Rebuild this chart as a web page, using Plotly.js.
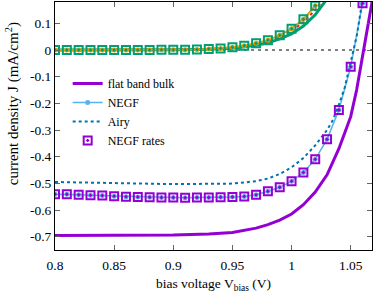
<!DOCTYPE html>
<html>
<head>
<meta charset="utf-8">
<script src="https://cdn.plot.ly/plotly-3.0.1.min.js"></script>
<style>html,body{margin:0;padding:0;background:#fff;}#chart{width:374px;height:293px;}</style>
</head>
<body>
<div id="chart"></div>
<script>
// ---- illuminated set (lower curves) ----
const flatX = [0.80, 0.85, 0.90, 0.93, 0.95, 0.97, 0.98, 0.99, 1.00, 1.01, 1.02, 1.03, 1.04, 1.045, 1.05, 1.055, 1.06, 1.065, 1.07];
const flatY = [-0.696, -0.695, -0.694, -0.690, -0.684, -0.668, -0.655, -0.638, -0.615, -0.580, -0.533, -0.468, -0.370, -0.310, -0.250, -0.150, -0.030, 0.100, 0.230];

const negfX = [0.80, 0.81, 0.82, 0.83, 0.84, 0.85, 0.86, 0.87, 0.88, 0.89, 0.90, 0.91, 0.92, 0.93, 0.94, 0.95, 0.96, 0.97, 0.98, 0.99, 1.00, 1.01, 1.02, 1.03, 1.04, 1.05, 1.06];
const negfY = [-0.541, -0.541, -0.543, -0.545, -0.546, -0.548, -0.550, -0.551, -0.552, -0.553, -0.553, -0.554, -0.553, -0.553, -0.552, -0.551, -0.549, -0.543, -0.530, -0.515, -0.492, -0.459, -0.410, -0.335, -0.225, -0.063, 0.175];
const ratesY = [-0.541, -0.541, -0.543, -0.545, -0.546, -0.548, -0.550, -0.551, -0.552, -0.553, -0.553, -0.554, -0.553, -0.553, -0.552, -0.551, -0.549, -0.543, -0.530, -0.515, -0.492, -0.459, -0.410, -0.335, -0.225, -0.063, 0.175];

const airyX = [0.80, 0.85, 0.90, 0.95, 0.96, 0.97, 0.98, 0.99, 1.00, 1.01, 1.02, 1.03, 1.035, 1.04, 1.045, 1.05, 1.055, 1.06];
const airyY = [-0.495, -0.500, -0.503, -0.501, -0.497, -0.492, -0.482, -0.465, -0.440, -0.405, -0.358, -0.300, -0.262, -0.205, -0.140, -0.045, 0.050, 0.190];

// ---- dark set (upper curves) ----
const darkFlatX = [0.80, 0.85, 0.90, 0.93, 0.95, 0.97, 0.98, 0.99, 1.00, 1.01, 1.02, 1.03];
const darkFlatY = [0.000, 0.000, 0.001, 0.003, 0.007, 0.018, 0.027, 0.042, 0.060, 0.090, 0.132, 0.192];

const darkNegfX = [0.80, 0.81, 0.82, 0.83, 0.84, 0.85, 0.86, 0.87, 0.88, 0.89, 0.90, 0.91, 0.92, 0.93, 0.94, 0.95, 0.96, 0.97, 0.98, 0.99, 1.00, 1.01, 1.02];
const darkNegfY = [0.000, 0.000, 0.000, 0.000, 0.000, 0.000, 0.000, 0.000, 0.000, 0.001, 0.001, 0.001, 0.002, 0.004, 0.006, 0.010, 0.016, 0.025, 0.037, 0.055, 0.080, 0.115, 0.166];
const darkRatesY = [0.000, 0.000, 0.000, 0.000, 0.000, 0.000, 0.000, 0.000, 0.000, 0.001, 0.001, 0.001, 0.002, 0.004, 0.006, 0.010, 0.016, 0.025, 0.037, 0.055, 0.080, 0.115, 0.166];

const darkAiryX = [0.80, 0.85, 0.90, 0.93, 0.95, 0.97, 0.98, 0.99, 1.00, 1.01, 1.02, 1.03];
const darkAiryY = [0.000, 0.000, 0.001, 0.003, 0.008, 0.021, 0.032, 0.050, 0.072, 0.104, 0.150, 0.210];

const xTicks = [0.8, 0.85, 0.9, 0.95, 1, 1.05];
const xTickText = ['0.8', '0.85', '0.9', '0.95', '1', '1.05'];
const yTicks = [0.1, 0, -0.1, -0.2, -0.3, -0.4, -0.5, -0.6, -0.7];
const yTickText = ['0.1', '0', '-0.1', '-0.2', '-0.3', '-0.4', '-0.5', '-0.6', '-0.7'];

const xTitle = 'bias voltage V<sub>bias</sub> (V)';
const yTitle = 'current density J (mA/cm<sup>2</sup>)';

const PURPLE = '#9400d3', SKY = '#56b4e9', BLUE = '#0072b2';
const GREEN = '#009e73', ORANGE = '#e69f00', RED = '#e51e10';

const traces = [
  // dark set
  {x: darkFlatX, y: darkFlatY, mode: 'lines', line: {color: GREEN, width: 3}, showlegend: false},
  {x: darkAiryX, y: darkAiryY, mode: 'lines', line: {color: RED, width: 2, dash: 'dot'}, showlegend: false},
  {x: darkNegfX, y: darkNegfY, mode: 'lines+markers', line: {color: ORANGE, width: 2}, marker: {symbol: 'circle', size: 5, color: ORANGE}, showlegend: false},
  {x: darkNegfX, y: darkRatesY, mode: 'markers', marker: {symbol: 'square-open-dot', size: 8, color: GREEN, line: {width: 2, color: GREEN}}, showlegend: false},
  // illuminated set
  {x: flatX, y: flatY, mode: 'lines', name: 'flat band bulk', line: {color: PURPLE, width: 3}},
  {x: negfX, y: negfY, mode: 'lines+markers', name: 'NEGF', line: {color: SKY, width: 1.5}, marker: {symbol: 'circle', size: 5, color: SKY}},
  {x: airyX, y: airyY, mode: 'lines', name: 'Airy', line: {color: BLUE, width: 2, dash: 'dot'}},
  {x: negfX, y: ratesY, mode: 'markers', name: 'NEGF rates', marker: {symbol: 'square-open-dot', size: 8, color: PURPLE, line: {width: 2, color: PURPLE}}}
];

const axisFont = {family: 'Liberation Serif, serif', size: 13.5, color: '#000'};
const legendFont = {family: 'Liberation Serif, serif', size: 12, color: '#000'};

const layout = {
  width: 374, height: 293,
  margin: {l: 55, r: 2, t: 2, b: 43},
  paper_bgcolor: '#fff', plot_bgcolor: '#fff',
  font: axisFont,
  showlegend: true,
  legend: {x: 0.04, y: 0.73, xanchor: 'left', yanchor: 'top', bgcolor: 'rgba(0,0,0,0)', font: legendFont, tracegroupgap: 0, itemwidth: 30},
  xaxis: {
    range: [0.8, 1.068], showgrid: false, zeroline: false,
    showline: true, mirror: 'ticks', linecolor: '#000', linewidth: 1,
    ticks: 'inside', ticklen: 5, tickcolor: '#666', tickwidth: 1,
    tickvals: xTicks, ticktext: xTickText, tickfont: axisFont, ticklabelstandoff: 3,
    title: {text: xTitle, font: axisFont, standoff: 8}
  },
  yaxis: {
    range: [-0.75, 0.18], showgrid: false, zeroline: false,
    showline: true, mirror: 'ticks', linecolor: '#000', linewidth: 1,
    ticks: 'inside', ticklen: 5, tickcolor: '#666', tickwidth: 1,
    tickvals: yTicks, ticktext: yTickText, tickfont: axisFont
  },
  annotations: [
    {text: yTitle, xref: 'paper', yref: 'paper', x: -0.134, y: 0.59, xanchor: 'center', yanchor: 'middle',
     textangle: -90, showarrow: false, font: {family: 'Liberation Serif, serif', size: 15, color: '#000'}}
  ],
  shapes: [
    {type: 'line', xref: 'paper', x0: 0, x1: 1, yref: 'y', y0: 0, y1: 0, line: {color: '#000', width: 1, dash: '3px,4px'}, layer: 'below'}
  ]
};

Plotly.newPlot('chart', traces, layout, {displayModeBar: false, staticPlot: true});
</script>
</body>
</html>
